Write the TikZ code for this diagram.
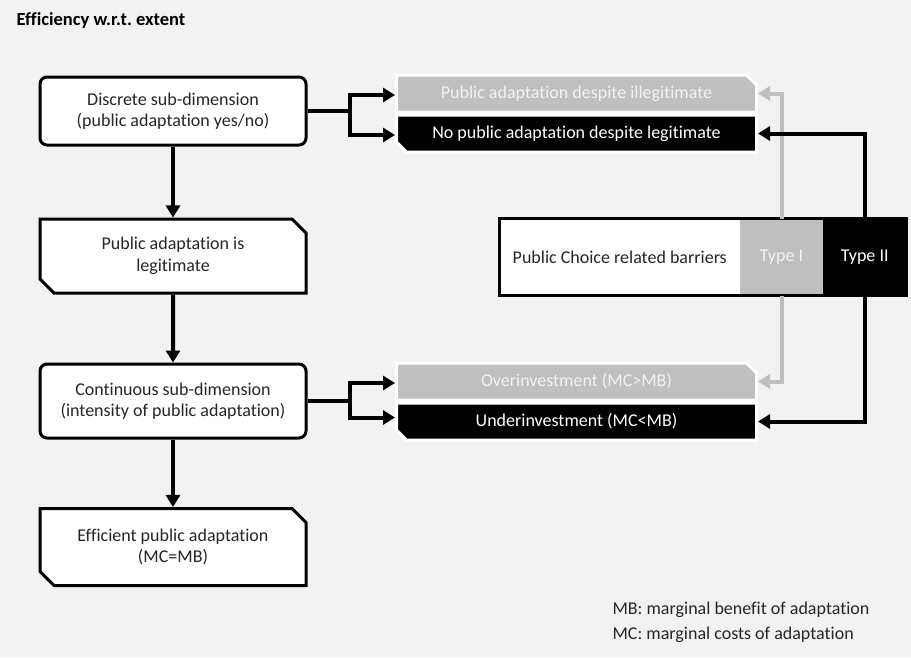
\documentclass[tikz,border=0pt]{standalone}
\usepackage{fontspec}
\setmainfont{Carlito}[Ligatures=NoCommon]
\usepackage{xcolor}
\usepackage{tikz}
\usetikzlibrary{shapes.misc,arrows.meta,positioning,fit,backgrounds}

\definecolor{barrgrey}{RGB}{191,191,191}
\definecolor{inktext}{RGB}{38,38,38}
\frenchspacing

\begin{document}
\begin{tikzpicture}[
    x=1pt, y=-1pt,
    node distance=0pt,
    every node/.style={font=\fontsize{18}{21.5}\selectfont},
    dimbox/.style={rectangle, rounded corners=7pt, draw, line width=3pt, fill=white, text=inktext, minimum width=266pt, minimum height=68pt, align=center},
    resbox/.style={chamfered rectangle, chamfered rectangle corners={north east, south west}, chamfered rectangle xsep=7pt, chamfered rectangle ysep=7pt, draw, line width=3pt, fill=white, text=inktext, minimum width=266pt, minimum height=74pt, align=center},
    greybox/.style={chamfered rectangle, chamfered rectangle corners=north east, chamfered rectangle xsep=5pt, chamfered rectangle ysep=5pt, draw=white, line width=3pt, fill=barrgrey, text=black!5, minimum width=360pt, minimum height=37pt},
    blackbox/.style={greybox, chamfered rectangle corners=south west, fill=black, text=white},
    barrier/.style={rectangle, fill=white, text=inktext, minimum height=77pt, inner sep=0pt, outer sep=0pt},
    arrow/.style={-{Triangle[length=12pt,width=14pt]}, line width=4pt},
    greyarrow/.style={arrow, draw=barrgrey}
]
    \path[use as bounding box, fill=black!5] (0,0) rectangle (911,657);

    \node[anchor=west, font=\bfseries\fontsize{18.5}{20}\selectfont] (title) at (13,20) {Efficiency w.r.t. extent};

    % Left column
    \node[dimbox] (disc) at (173,111) {Discrete sub-dimension\\(public adaptation yes/no)};
    \node[resbox] (legit) at (173,256) {Public adaptation is\\legitimate};
    \node[dimbox, minimum height=74pt] (cont) at (173,401) {Continuous sub-dimension\\(intensity of public adaptation)};
    \node[resbox, minimum height=77pt] (effic) at (173,547) {Efficient public adaptation\\(MC=MB)};

    % Outcomes
    \node[greybox] (illeg) at (576.5,93.5) {Public adaptation despite illegitimate};
    \node[blackbox, below=of illeg] (nolegit) {No public adaptation despite legitimate};
    \node[greybox] (overinv) at (576.5,381.5) {Overinvestment (MC>MB)};
    \node[blackbox, below=of overinv] (underinv) {Underinvestment (MC<MB)};

    % Barriers
    \node[barrier, minimum width=240.5pt] (pcb) at (619.75,257) {Public Choice related barriers};
    \node[barrier, fill=barrgrey, text=black!5, minimum width=83pt, right=of pcb] (type1) {Type I};
    \node[barrier, fill=black, text=white, minimum width=83.5pt, right=of type1] (type2) {Type II};
    \node[draw, line width=3pt, inner sep=0pt, fit=(pcb)(type2)] (barriers) {};

    % Arrows
    \draw[arrow] (disc) -- (legit);
    \draw[arrow] (legit) -- (cont);
    \draw[arrow] (cont) -- (effic);

    \coordinate[right=42.5pt of disc.east] (fork1);
    \draw[line width=4pt] (disc.east) -- (fork1);
    \draw[arrow] (fork1) |- ([yshift=-1.5pt]illeg.west);
    \draw[arrow] (fork1) |- ([yshift=-1.5pt]nolegit.west);

    \coordinate[right=42.5pt of cont.east] (fork2);
    \draw[line width=4pt] (cont.east) -- (fork2);
    \draw[arrow] (fork2) |- ([yshift=-1.5pt]overinv.west);
    \draw[arrow] (fork2) |- ([yshift=4pt]underinv.west);

    \draw[greyarrow] (type1.north) |- (illeg.east);
    \draw[greyarrow] (type1.south) |- (overinv.east);
    \draw[arrow] (type2.north) |- (nolegit.east);
    \draw[arrow] (type2.south) |- (underinv.east);

    % Key
    \node[anchor=north west, align=left, text=inktext, font=\fontsize{18}{25}\selectfont] (key) at (609,598) {MB: marginal benefit of adaptation\\MC: marginal costs of adaptation};

\end{tikzpicture}
\end{document}
